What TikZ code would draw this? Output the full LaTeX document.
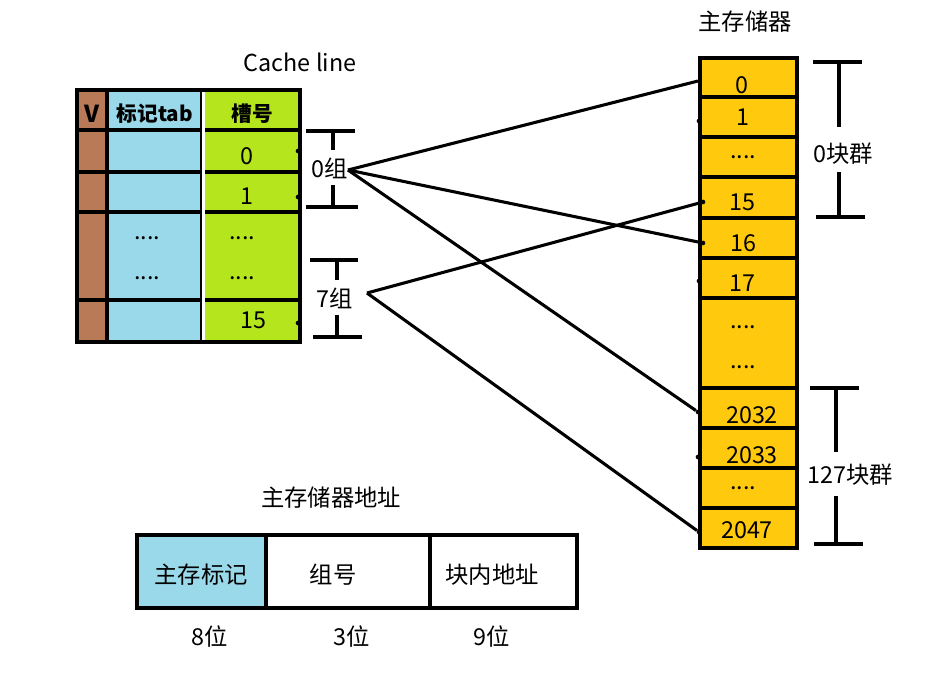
\documentclass[tikz,border=0pt]{standalone}
\usepackage{fontspec}
\setmainfont{Noto Sans CJK SC}
\definecolor{vbrown}{HTML}{B97A57}
\definecolor{tblue}{HTML}{99D9EA}
\definecolor{slime}{HTML}{B5E61D}
\definecolor{mgold}{HTML}{FFC90E}
\begin{document}
\begin{tikzpicture}[x=0.75pt,y=-0.75pt,
  txt/.style={inner sep=0pt,font=\fontsize{17.5}{20}\selectfont},
  btxt/.style={inner sep=0pt,font=\fontsize{15.5}{18}\selectfont\bfseries},
  thick border/.style={line width=3.2pt},
  rowline/.style={line width=3.6pt},
  brk/.style={line width=2.6pt},
  conn/.style={line width=2.3pt},
  pin/.style={fill=black,circle,inner sep=0pt,minimum size=3.5pt}]
\useasboundingbox (0,0) rectangle (950,687);
% ---------------- Cache table ----------------
\fill[vbrown] (77,90) rectangle (107,342);
\fill[tblue] (107,90) rectangle (203,342);
\fill[slime] (203,90) rectangle (300,342);
\foreach \yy in {130,172,212,300} \draw[rowline] (77,\yy) -- (300,\yy);
\draw[line width=3pt] (107,90) -- (107,342);
\draw[line width=1.5pt] (201,90) -- (201,342);
\draw[white,line width=1.6pt] (203.5,86) -- (203.5,346);
\draw[thick border] (77,90) rectangle (300,342);
\node[txt] (cl) at (300,62) {Cache line};
\node[btxt,font=\fontsize{17.5}{20}\selectfont\bfseries] (hv) at (92,114) {V};
\node[btxt] (htab) at (155,114) {标记tab};
\node[btxt] (hslot) at (252,114) {槽号};
\node[txt] (s0) at (247,156) {0};
\node[txt] (s1) at (247,196) {1};
\node[txt] (td1) at (147,238) {....};
\node[txt] (td2) at (147,278) {....};
\node[txt] (sd1) at (242,238) {....};
\node[txt] (sd2) at (242,278) {....};
\node[txt] (s15) at (253,320) {15};
\node[pin] (p0) at (298,151) {};
\node[pin] (p1) at (298,197) {};
\node[pin] (p15) at (298,323) {};
% group brackets
\draw[brk] (306,131) -- (355,131) (333,131) -- (333,150);
\draw[brk] (333,185) -- (333,207) (306,207) -- (358,207);
\node[txt] (g0) at (330,168) {0组};
\draw[brk] (310,260) -- (358,260) (337,260) -- (337,280);
\draw[brk] (337,315) -- (337,337) (313,337) -- (362,337);
\node[txt] (g7) at (335,298) {7组};
% ---------------- Main memory ----------------
\node[txt] (mmt) at (745,22) {主存储器};
\fill[mgold] (700,58) rectangle (797,548);
\foreach \yy in {97,137,177,218,258,298,388,428,468,508} \draw[rowline] (700,\yy) -- (797,\yy);
\draw[thick border] (700,58) rectangle (797,548);
\node[txt] (m0) at (742,85) {0};
\node[txt] (m1) at (743,117) {1};
\node[txt] (md1) at (743,157) {....};
\node[txt] (m15) at (742,202) {15};
\node[txt] (m16) at (743,243) {16};
\node[txt] (m17) at (742,283) {17};
\node[txt] (md2) at (743,327) {....};
\node[txt] (md3) at (743,367) {....};
\node[txt] (m2032) at (752,415) {2032};
\node[txt] (m2033) at (752,455) {2033};
\node[txt] (md4) at (743,488) {....};
\node[txt] (m2047) at (747,530) {2047};
\node[pin] (q1) at (699,121) {};
\node[pin] (q15) at (703,202) {};
\node[pin] (q16) at (703,243) {};
\node[pin] (q17) at (699,281) {};
\node[pin] (q2032) at (698,412) {};
\node[pin] (q2033) at (698,457) {};
\node[pin] (q2047) at (699,532) {};
\coordinate (e0) at (698,81);
% block-group brackets
\draw[brk] (813,62) -- (862,62) (839,62) -- (839,127);
\draw[brk] (839,172) -- (839,217) (816,217) -- (865,217);
\node[txt] (b0) at (843,154) {0块群};
\draw[brk] (810,388) -- (859,388) (836,388) -- (836,452);
\draw[brk] (836,496) -- (836,544) (814,544) -- (863,544);
\node[txt] (b127) at (850,475) {127块群};
% ---------------- connectors ----------------
\coordinate (g0e) at (348,170);
\coordinate (g7e) at (367,293);
\draw[conn] (g0e) -- (e0);
\draw[conn] (g0e) -- (q16);
\draw[conn] (g0e) -- (q2032);
\draw[conn] (g7e) -- (q15);
\draw[conn] (g7e) -- (q2047);
% ---------------- address format ----------------
\node[txt] (addr) at (331,498) {主存储器地址};
\fill[tblue] (137,535) rectangle (266,608);
\draw[line width=3.6pt] (137,535) rectangle (577,608);
\draw[line width=3.6pt] (266,535) -- (266,608);
\draw[line width=3.6pt] (430,535) -- (430,608);
\node[txt] (f1) at (201,575) {主存标记};
\node[txt] (f2) at (333,575) {组号};
\node[txt] (f3) at (492,575) {块内地址};
\node[txt] (w1) at (210,637) {8位};
\node[txt] (w2) at (352,637) {3位};
\node[txt] (w3) at (492,637) {9位};
\end{tikzpicture}
\end{document}
